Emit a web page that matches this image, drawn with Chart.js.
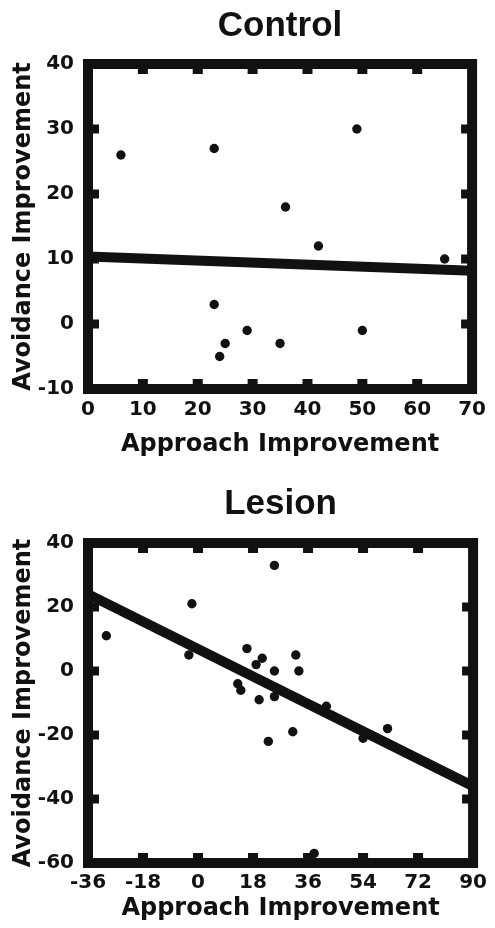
<!DOCTYPE html>
<html>
<head>
<meta charset="utf-8">
<script src="https://cdn.jsdelivr.net/npm/chart.js@4.4.1/dist/chart.umd.min.js"></script>
<style>
  body { margin: 0; background: #fff; }
  canvas { display: block; }
</style>
</head>
<body>
<canvas id="control" width="495" height="465"></canvas>
<canvas id="lesion" width="495" height="463"></canvas>
<script>
// Control group
const controlApproach = [6, 23, 49, 36, 42, 65, 23, 29, 25, 24, 35, 50];
const controlAvoidance = [26, 27, 30, 18, 12, 10, 3, -1, -3, -5, -3, -1];
const controlFitX = [0, 70];
const controlFitY = [10.4, 8.2];
const controlXTicks = [0, 10, 20, 30, 40, 50, 60, 70];
const controlYTicks = [-10, 0, 10, 20, 30, 40];

// Lesion group
const lesionApproach = [25, -2, -30, -3, 16, 21, 19, 32, 33, 25, 13, 14, 20, 25, 23, 31, 42, 62, 54, 38];
const lesionAvoidance = [33, 21, 11, 5, 7, 4, 2, 5, 0, 0, -4, -6, -9, -8, -22, -19, -11, -18, -21, -57];
const lesionFitX = [-36, 90];
const lesionFitY = [24, -36];
const lesionXTicks = [-36, -18, 0, 18, 36, 54, 72, 90];
const lesionYTicks = [-60, -40, -20, 0, 20, 40];

const ink = "#111";
const tickFont = { family: "'DejaVu Sans'", weight: "bold", size: 20 };
const axisFont = { family: "'DejaVu Sans'", weight: "bold", size: 24 };

// thick box round the plot with short inward tick marks on all four sides
const framePlugin = {
  id: "frame",
  afterDatasetsDraw(chart) {
    const { ctx, chartArea: a } = chart;
    const x = chart.scales.x;
    const y = chart.scales.y;
    ctx.save();
    ctx.fillStyle = ink;
    x.ticks.forEach((t) => {
      if (t.value <= x.min || t.value >= x.max) return;
      const px = x.getPixelForValue(t.value);
      ctx.fillRect(px - 5, a.top, 10, 10);
      ctx.fillRect(px - 5, a.bottom - 10, 10, 10);
    });
    y.ticks.forEach((t) => {
      if (t.value <= y.min || t.value >= y.max) return;
      const py = y.getPixelForValue(t.value);
      ctx.fillRect(a.left, py - 4.5, 11, 9);
      ctx.fillRect(a.right - 11, py - 4.5, 11, 9);
    });
    ctx.strokeStyle = ink;
    ctx.lineWidth = 10;
    ctx.strokeRect(a.left, a.top, a.right - a.left, a.bottom - a.top);
    ctx.restore();
  },
};

function makeChart(id, title, xs, ys, fitX, fitY, xTicks, yTicks, sizes) {
  const ctx = document.getElementById(id).getContext("2d");
  return new Chart(ctx, {
    type: "scatter",
    data: {
      datasets: [
        {
          data: xs.map((v, i) => ({ x: v, y: ys[i] })),
          backgroundColor: ink,
          borderWidth: 0,
          pointRadius: 4.7,
        },
        {
          type: "line",
          data: fitX.map((v, i) => ({ x: v, y: fitY[i] })),
          borderColor: ink,
          borderWidth: 10,
          pointRadius: 0,
          borderCapStyle: "butt",
        },
      ],
    },
    options: {
      responsive: false,
      animation: false,
      layout: { padding: { left: 0, right: 18, top: 0, bottom: 0 } },
      plugins: {
        legend: { display: false },
        tooltip: { enabled: false },
        title: {
          display: true,
          fullSize: false,
          text: title,
          color: ink,
          font: { family: "'Liberation Sans'", weight: "bold", size: 35 },
          padding: sizes.titlePad,
        },
      },
      scales: {
        x: {
          type: "linear",
          min: xTicks[0],
          max: xTicks[xTicks.length - 1],
          afterBuildTicks: (s) => { s.ticks = xTicks.map((v) => ({ value: v })); },
          afterFit: (s) => { s.height = sizes.xHeight; },
          grid: { display: false, drawTicks: false },
          border: { display: false },
          ticks: { color: ink, font: tickFont, padding: sizes.xTickPad, autoSkip: false, maxRotation: 0 },
          title: { display: true, text: "Approach Improvement", color: ink, font: axisFont, padding: { top: 0, bottom: sizes.xTitlePad } },
        },
        y: {
          type: "linear",
          min: yTicks[0],
          max: yTicks[yTicks.length - 1],
          afterBuildTicks: (s) => { s.ticks = yTicks.map((v) => ({ value: v })); },
          afterFit: (s) => { s.width = 88; },
          grid: { display: false, drawTicks: false },
          border: { display: false },
          ticks: { color: ink, font: tickFont, padding: 14 },
          title: { display: true, text: "Avoidance Improvement", color: ink, font: axisFont, padding: { top: 9, bottom: 0 } },
        },
      },
    },
    plugins: [framePlugin],
  });
}

makeChart("control", "Control", controlApproach, controlAvoidance, controlFitX, controlFitY,
  controlXTicks, controlYTicks, { titlePad: { top: 5, bottom: 17 }, xHeight: 76, xTickPad: 9, xTitlePad: 6 });
makeChart("lesion", "Lesion", lesionApproach, lesionAvoidance, lesionFitX, lesionFitY,
  lesionXTicks, lesionYTicks, { titlePad: { top: 18, bottom: 18 }, xHeight: 65, xTickPad: 8, xTitlePad: 5 });
</script>
</body>
</html>
